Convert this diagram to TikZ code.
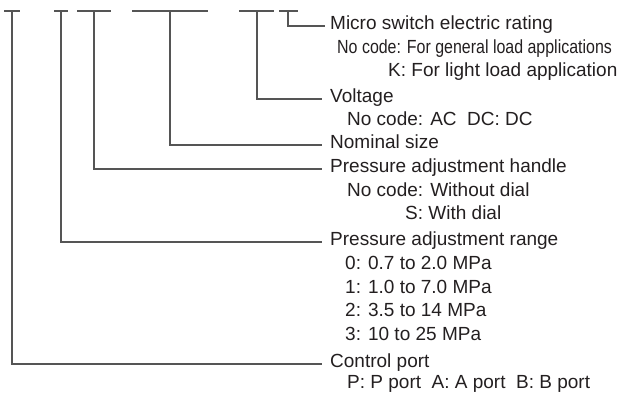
\documentclass[tikz,border=0pt]{standalone}
\usepackage{fontspec}
\setmainfont{Liberation Sans}
\newfontfamily\narrowfont[FakeStretch=0.84]{Liberation Sans}
\usetikzlibrary{positioning, calc}
\definecolor{leadgray}{RGB}{85, 85, 85}
\definecolor{labelgray}{RGB}{35, 31, 32}
\tikzset{
  lead/.style={draw=leadgray, line width=1.1pt},
  item/.style={anchor=west, inner sep=0pt, text height=0.716em, text depth=0pt,
    text=labelgray, font=\fontsize{19}{22}\selectfont},
}

\begin{document}
\begin{tikzpicture}[x=1pt, y=-1pt]
    \useasboundingbox (0,0) rectangle (624,394);
    % code bars
    \draw[lead] (4,11) -- (20,11);
    \draw[lead] (54,11) -- (68,11);
    \draw[lead] (77,11) -- (111,11);
    \draw[lead] (132,11) -- (208,11);
    \draw[lead] (239,11) -- (274,11);
    \draw[lead] (279,11) -- (298,11);
    \coordinate (port) at (12,11);
    \coordinate (range) at (61,11);
    \coordinate (handle) at (94,11);
    \coordinate (size) at (170,11);
    \coordinate (volt) at (257,11);
    \coordinate (micro) at (288,11);
    % labels
    \node[item] (microlbl) at (330,26) {Micro switch electric rating};
    \node[item] (microA) at (337,50) {\narrowfont No code: For general load applications};
    \node[item] (microB) at (388,73) {K: For light load application};
    \node[item] (voltlbl) at (330,99) {Voltage};
    \node[item] (voltA) at (347,122) {No code: AC\ \ DC: DC};
    \node[item] (sizelbl) at (330,145) {Nominal size};
    \node[item] (handlelbl) at (330,169) {Pressure adjustment handle};
    \node[item] (handleA) at (347,193) {No code: Without dial};
    \node[item] (handleB) at (405,216) {S: With dial};
    \node[item] (rangelbl) at (330,242) {Pressure adjustment range};
    \node[item] (range0) at (345,266) {0: 0.7 to 2.0 MPa};
    \node[item] (range1) at (345,290) {1: 1.0 to 7.0 MPa};
    \node[item] (range2) at (345,313) {2: 3.5 to 14 MPa};
    \node[item] (range3) at (345,337) {3: 10 to 25 MPa};
    \node[item] (portlbl) at (330,364) {Control port};
    \node[item] (portA) at (347,385) {P: P port\ \ A: A port\ \ B: B port};
    % leaders
    \draw[lead] (micro) |- ([xshift=-5pt]microlbl.west);
    \draw[lead] (volt) |- ([xshift=-8pt]voltlbl.west);
    \draw[lead] (size) |- ([xshift=-8pt]sizelbl.west);
    \draw[lead] (handle) |- ([xshift=-8pt]handlelbl.west);
    \draw[lead] (range) |- ([xshift=-8pt]rangelbl.west);
    \draw[lead] (port) |- ([xshift=-8pt]portlbl.west);
\end{tikzpicture}
\end{document}
